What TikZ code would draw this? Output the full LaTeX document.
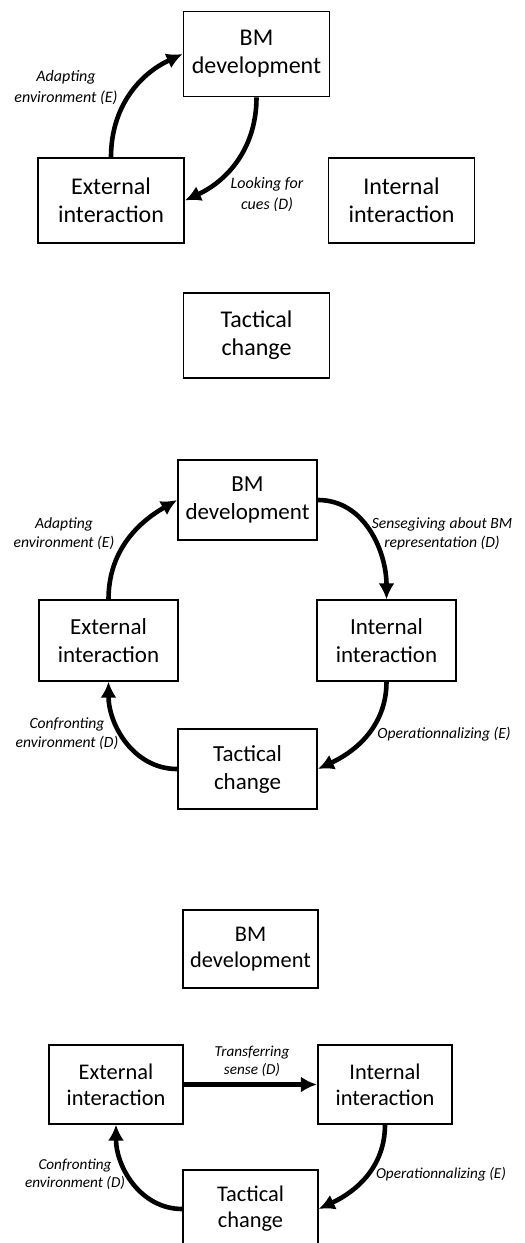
\documentclass[tikz,border=0pt]{standalone}
\usepackage{fontspec}
\setmainfont{Carlito}
\usetikzlibrary{arrows.meta}

\begin{document}
\begin{tikzpicture}[x=0.5pt,y=-0.5pt,line cap=round]
\tikzset{stage/.style={draw,line width=0.9pt,align=center,inner sep=0pt}}
\tikzset{stageA/.style={stage,minimum width=73pt,minimum height=42.5pt,font=\fontsize{12}{14}\selectfont}}
\tikzset{stageB/.style={stage,minimum width=69.5pt,minimum height=40.25pt,font=\fontsize{11.5}{14}\selectfont}}
\tikzset{stageC/.style={stage,minimum width=67.25pt,minimum height=39.25pt,font=\fontsize{11.2}{13}\selectfont}}
\tikzset{flow/.style={line width=2.3pt,line cap=butt,-{Latex[length=8pt,width=8pt]}}}
\tikzset{cue/.style={align=center,inner sep=0pt}}

\useasboundingbox (0,0) rectangle (525,1243);

% first loop
\node[stageA] (bmA) at (256.5,54) {BM\\development};
\node[stageA] (extA) at (111,200.5) {External\\interaction};
\node[stageA] (intA) at (401.5,200.5) {Internal\\interaction};
\node[stageA] (tacA) at (256.5,335.5) {Tactical\\change};

\draw[flow] (extA.north) to[out=90,in=205] (bmA.west);
\draw[flow] (bmA.south) to[out=-90,in=25] (extA.east);

\node[cue,font=\fontsize{8}{10.5}\selectfont\itshape] (adaptA) at (66,88) {Adapting\\environment (E)};
\node[cue,font=\fontsize{8}{10.5}\selectfont\itshape] (cuesA) at (267,195) {Looking for\\cues (D)};

% second loop
\node[stageB] (bmB) at (247.5,500) {BM\\development};
\node[stageB] (extB) at (108.5,640.5) {External\\interaction};
\node[stageB] (intB) at (386.5,640.5) {Internal\\interaction};
\node[stageB] (tacB) at (247.5,769) {Tactical\\change};

\draw[flow] (extB.north) to[out=90,in=210] (bmB.west);
\draw[flow] (bmB.east) to[out=0,in=90] (intB.north);
\draw[flow] (intB.south) to[out=-90,in=25] (tacB.east);
\draw[flow] (tacB.west) to[out=180,in=-90] (extB.south);

\node[cue,font=\fontsize{7.8}{9.5}\selectfont\itshape] (adaptB) at (64,534) {Adapting\\environment (E)};
\node[cue,font=\fontsize{7.8}{9.5}\selectfont\itshape] (senseB) at (442,534) {Sensegiving about BM\\representation (D)};
\node[cue,font=\fontsize{7.8}{9.5}\selectfont\itshape] (operB) at (444,734) {Operationnalizing (E)};
\node[cue,font=\fontsize{7.8}{9.5}\selectfont\itshape] (confB) at (67,734) {Confronting\\environment (D)};

% third loop
\node[stageC] (bmC) at (250.5,949) {BM\\development};
\node[stageC] (extC) at (116,1084.5) {External\\interaction};
\node[stageC] (intC) at (385,1084.5) {Internal\\interaction};
\node[stageC] (tacC) at (250.5,1209) {Tactical\\change};

\draw[flow] (extC.east) -- (intC.west);
\draw[flow] (intC.south) to[out=-90,in=25] (tacC.east);
\draw[flow] (tacC.west) to[out=180,in=-90] (extC.south);

\node[cue,font=\fontsize{7.6}{9}\selectfont\itshape] (transC) at (252,1061) {Transferring\\sense (D)};
\node[cue,font=\fontsize{7.6}{9}\selectfont\itshape] (operC) at (441,1174) {Operationnalizing (E)};
\node[cue,font=\fontsize{7.6}{9}\selectfont\itshape] (confC) at (75,1174) {Confronting\\environment (D)};
\end{tikzpicture}
\end{document}
